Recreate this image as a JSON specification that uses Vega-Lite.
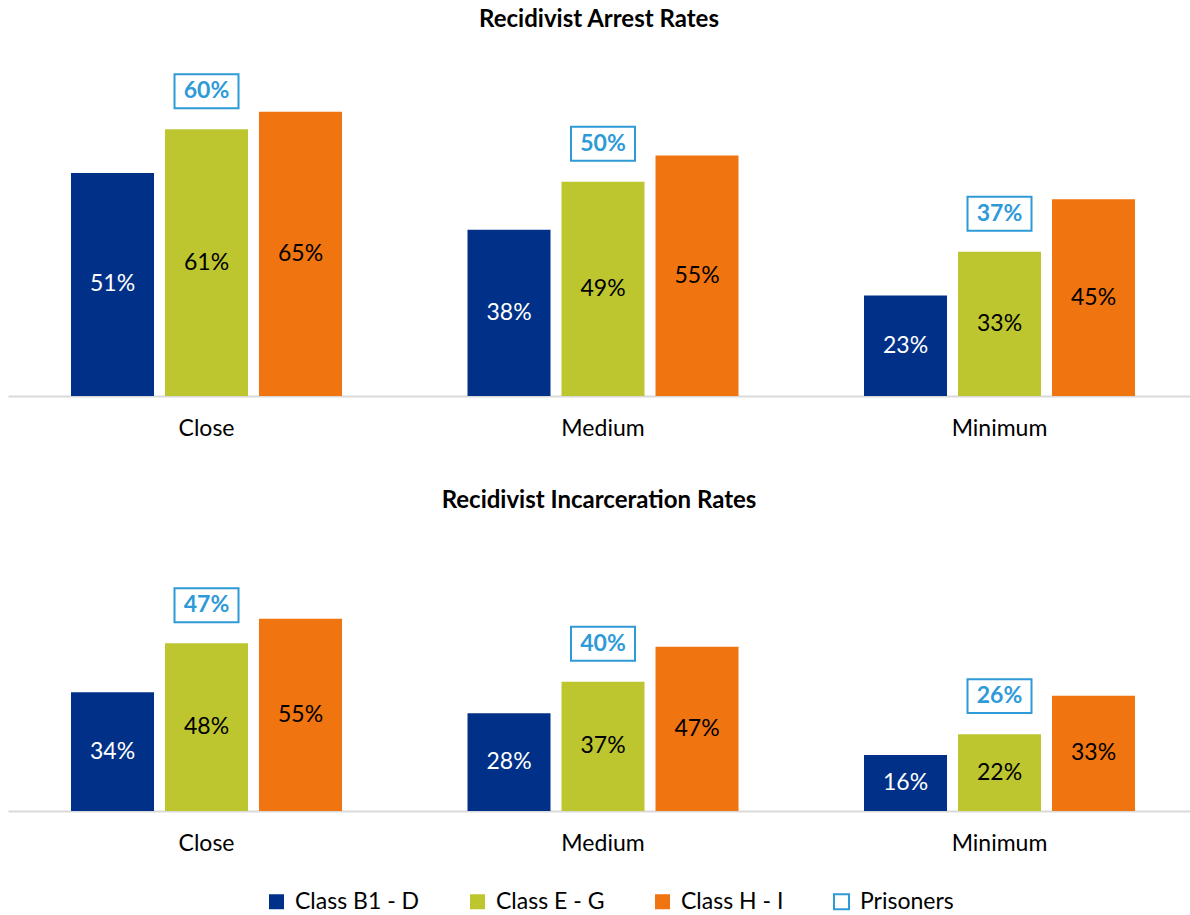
{
  "$schema": "https://vega.github.io/schema/vega-lite/v6.json",
  "padding": {"left": 8, "right": 0, "top": 8, "bottom": 0},
  "background": "white",
  "datasets": {
    "rates": [
      {"panel": "Arrest", "level": "Close", "class": "Class B1 - D", "rate": 0.51},
      {"panel": "Arrest", "level": "Close", "class": "Class E - G", "rate": 0.61, "prisoners": 0.60},
      {"panel": "Arrest", "level": "Close", "class": "Class H - I", "rate": 0.65},
      {"panel": "Arrest", "level": "Medium", "class": "Class B1 - D", "rate": 0.38},
      {"panel": "Arrest", "level": "Medium", "class": "Class E - G", "rate": 0.49, "prisoners": 0.50},
      {"panel": "Arrest", "level": "Medium", "class": "Class H - I", "rate": 0.55},
      {"panel": "Arrest", "level": "Minimum", "class": "Class B1 - D", "rate": 0.23},
      {"panel": "Arrest", "level": "Minimum", "class": "Class E - G", "rate": 0.33, "prisoners": 0.37},
      {"panel": "Arrest", "level": "Minimum", "class": "Class H - I", "rate": 0.45},
      {"panel": "Incarceration", "level": "Close", "class": "Class B1 - D", "rate": 0.34},
      {"panel": "Incarceration", "level": "Close", "class": "Class E - G", "rate": 0.48, "prisoners": 0.47},
      {"panel": "Incarceration", "level": "Close", "class": "Class H - I", "rate": 0.55},
      {"panel": "Incarceration", "level": "Medium", "class": "Class B1 - D", "rate": 0.28},
      {"panel": "Incarceration", "level": "Medium", "class": "Class E - G", "rate": 0.37, "prisoners": 0.40},
      {"panel": "Incarceration", "level": "Medium", "class": "Class H - I", "rate": 0.47},
      {"panel": "Incarceration", "level": "Minimum", "class": "Class B1 - D", "rate": 0.16},
      {"panel": "Incarceration", "level": "Minimum", "class": "Class E - G", "rate": 0.22, "prisoners": 0.26},
      {"panel": "Incarceration", "level": "Minimum", "class": "Class H - I", "rate": 0.33}
    ]
  },
  "spacing": 49,
  "vconcat": [
    {
      "title": {"text": "Recidivist Arrest Rates"},
      "width": 1182,
      "height": 328,
      "data": {"name": "rates"},
      "transform": [
        {"filter": "datum.panel === 'Arrest'"},
        {"calculate": "datum.rate / 2", "as": "mid"}
      ],
      "encoding": {
        "x": {"field": "level", "type": "nominal", "sort": ["Close", "Medium", "Minimum"], "title": null,
              "scale": {"paddingInner": 0.3165, "paddingOuter": 0.1488, "align": 0.534}},
        "xOffset": {"field": "class", "type": "nominal", "sort": ["Class B1 - D", "Class E - G", "Class H - I"],
                    "scale": {"paddingInner": 0.117, "paddingOuter": 0}}
      },
      "layer": [
        {
          "mark": {"type": "bar"},
          "encoding": {
            "y": {"field": "rate", "type": "quantitative", "scale": {"domain": [0, 0.75], "nice": false}, "axis": null},
            "color": {"field": "class", "type": "nominal",
                      "scale": {"domain": ["Class B1 - D", "Class E - G", "Class H - I", "Prisoners"],
                                "range": ["#003087", "#BDC62F", "#F0740F", "#ffffff"]},
                      "legend": {"orient": "none", "legendX": 257, "legendY": 822, "direction": "horizontal", "columns": 4,
                                 "title": null, "symbolType": "square", "symbolSize": 225, "labelFontSize": 23,
                                 "labelOffset": 7, "columnPadding": 46, "symbolOpacity": 1,
                                 "encode": {"symbols": {"update": {
                                   "stroke": {"signal": "datum.label === 'Prisoners' ? '#2E9AD8' : 'transparent'"},
                                   "strokeWidth": {"value": 2}}}}}}
          }
        },
        {
          "mark": {"type": "text", "fontSize": 23, "baseline": "middle"},
          "encoding": {
            "y": {"field": "mid", "type": "quantitative"},
            "text": {"field": "rate", "type": "quantitative", "format": ".0%"},
            "color": {"condition": {"test": "datum.class === 'Class B1 - D'", "value": "white"}, "value": "black"}
          }
        },
        {
          "transform": [{"filter": "isValid(datum.prisoners)"}],
          "mark": {"type": "point", "shape": "M-1,-0.53H1V0.53H-1Z", "size": 4096, "filled": true,
                   "fill": "white", "stroke": "#2E9AD8", "strokeWidth": 2, "opacity": 1, "yOffset": -38},
          "encoding": {"y": {"field": "rate", "type": "quantitative"}}
        },
        {
          "transform": [{"filter": "isValid(datum.prisoners)"}],
          "mark": {"type": "text", "fontSize": 23, "fontWeight": "bold", "color": "#2E9AD8", "baseline": "middle", "yOffset": -38},
          "encoding": {
            "y": {"field": "rate", "type": "quantitative"},
            "text": {"field": "prisoners", "type": "quantitative", "format": ".0%"}
          }
        }
      ]
    },
    {
      "title": {"text": "Recidivist Incarceration Rates"},
      "width": 1182,
      "height": 262,
      "data": {"name": "rates"},
      "transform": [
        {"filter": "datum.panel === 'Incarceration'"},
        {"calculate": "datum.rate / 2", "as": "mid"}
      ],
      "encoding": {
        "x": {"field": "level", "type": "nominal", "sort": ["Close", "Medium", "Minimum"], "title": null,
              "scale": {"paddingInner": 0.3165, "paddingOuter": 0.1488, "align": 0.534}},
        "xOffset": {"field": "class", "type": "nominal", "sort": ["Class B1 - D", "Class E - G", "Class H - I"],
                    "scale": {"paddingInner": 0.117, "paddingOuter": 0}}
      },
      "layer": [
        {
          "mark": {"type": "bar"},
          "encoding": {
            "y": {"field": "rate", "type": "quantitative", "scale": {"domain": [0, 0.75], "nice": false}, "axis": null},
            "color": {"field": "class", "type": "nominal",
                      "scale": {"domain": ["Class B1 - D", "Class E - G", "Class H - I", "Prisoners"],
                                "range": ["#003087", "#BDC62F", "#F0740F", "#ffffff"]}}
          }
        },
        {
          "mark": {"type": "text", "fontSize": 23, "baseline": "middle"},
          "encoding": {
            "y": {"field": "mid", "type": "quantitative"},
            "text": {"field": "rate", "type": "quantitative", "format": ".0%"},
            "color": {"condition": {"test": "datum.class === 'Class B1 - D'", "value": "white"}, "value": "black"}
          }
        },
        {
          "transform": [{"filter": "isValid(datum.prisoners)"}],
          "mark": {"type": "point", "shape": "M-1,-0.53H1V0.53H-1Z", "size": 4096, "filled": true,
                   "fill": "white", "stroke": "#2E9AD8", "strokeWidth": 2, "opacity": 1, "yOffset": -38},
          "encoding": {"y": {"field": "rate", "type": "quantitative"}}
        },
        {
          "transform": [{"filter": "isValid(datum.prisoners)"}],
          "mark": {"type": "text", "fontSize": 23, "fontWeight": "bold", "color": "#2E9AD8", "baseline": "middle", "yOffset": -38},
          "encoding": {
            "y": {"field": "rate", "type": "quantitative"},
            "text": {"field": "prisoners", "type": "quantitative", "format": ".0%"}
          }
        }
      ]
    }
  ],
  "config": {
    "font": "Lato",
    "view": {"stroke": null},
    "title": {"fontSize": 24, "fontWeight": "bold", "color": "black", "anchor": "middle", "offset": 36},
    "axisX": {"domainColor": "#D9D9D9", "domainWidth": 2, "ticks": false, "grid": false, "labelAngle": 0,
              "labelFontSize": 23, "labelColor": "black", "labelPadding": 21},
    "legend": {"labelColor": "black", "labelFont": "Lato"}
  }
}
